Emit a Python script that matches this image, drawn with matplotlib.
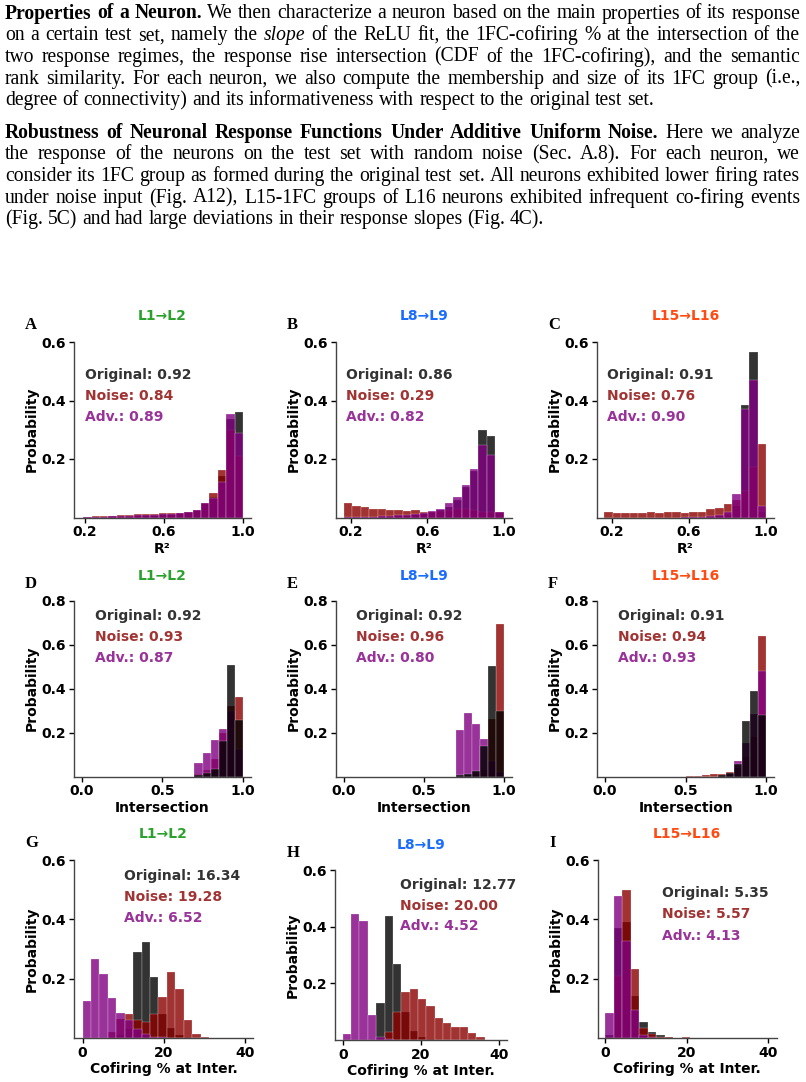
import numpy as np
import matplotlib
matplotlib.use("Agg")
import matplotlib.pyplot as plt

# ---------------- text block above the figure ----------------
para1 = [
    [("Properties of a Neuron.", "b"), ("We then characterize a neuron based on the main properties of its response", "n")],
    [("on a certain test set, namely the", "n"), ("slope", "i"), ("of the ReLU fit, the 1FC-cofiring % at the intersection of the", "n")],
    [("two response regimes, the response rise intersection (CDF of the 1FC-cofiring), and the semantic", "n")],
    [("rank similarity. For each neuron, we also compute the membership and size of its 1FC group (i.e.,", "n")],
    [("degree of connectivity) and its informativeness with respect to the original test set.", "n")],
]
para2 = [
    [("Robustness of Neuronal Response Functions Under Additive Uniform Noise.", "b"), ("Here we analyze", "n")],
    [("the response of the neurons on the test set with random noise (Sec.  A.8).  For each neuron, we", "n")],
    [("consider its 1FC group as formed during the original test set. All neurons exhibited lower firing rates", "n")],
    [("under noise input (Fig. A12), L15-1FC groups of L16 neurons exhibited infrequent co-firing events", "n")],
    [("(Fig. 5C) and had large deviations in their response slopes (Fig. 4C).", "n")],
]

# ---------------- histogram data (probability per bin) ----------------
layers = ["L1\u2192L2", "L8\u2192L9", "L15\u2192L16"]
layer_colors = ["#2ca02c", "#1a6cff", "#ff4a12"]
series_names = ["Original", "Noise", "Adv."]

# row 1: R^2, 19 bins each
A_range = (0.19, 1.0)
A_orig = [0.002, 0.003, 0.003, 0.004, 0.005, 0.006, 0.008, 0.009, 0.010, 0.011, 0.013, 0.015, 0.018, 0.025, 0.045, 0.070, 0.141, 0.337, 0.360]
A_noise = [0.003, 0.004, 0.005, 0.006, 0.008, 0.009, 0.011, 0.013, 0.011, 0.014, 0.017, 0.017, 0.019, 0.027, 0.048, 0.085, 0.161, 0.300, 0.210]
A_adv = [0.002, 0.002, 0.003, 0.004, 0.005, 0.006, 0.008, 0.009, 0.010, 0.011, 0.013, 0.015, 0.019, 0.027, 0.050, 0.065, 0.122, 0.355, 0.290]
A_stats = [0.92, 0.84, 0.89]

B_range = (0.163, 1.0)
B_orig = [0.002, 0.002, 0.003, 0.003, 0.004, 0.005, 0.006, 0.008, 0.010, 0.013, 0.018, 0.025, 0.036, 0.060, 0.105, 0.160, 0.300, 0.280, 0.015]
B_noise = [0.051, 0.040, 0.035, 0.030, 0.028, 0.025, 0.027, 0.022, 0.025, 0.018, 0.020, 0.022, 0.025, 0.028, 0.030, 0.025, 0.020, 0.018, 0.020]
B_adv = [0.001, 0.002, 0.002, 0.003, 0.004, 0.005, 0.007, 0.009, 0.012, 0.016, 0.022, 0.030, 0.050, 0.070, 0.110, 0.167, 0.247, 0.213, 0.020]
B_stats = [0.86, 0.29, 0.82]

C_range = (0.162, 1.0)
C_orig = [0.0, 0.0, 0.0, 0.0, 0.0, 0.0, 0.0, 0.0, 0.0, 0.001, 0.001, 0.002, 0.003, 0.005, 0.010, 0.040, 0.385, 0.565, 0.020]
C_noise = [0.018, 0.016, 0.016, 0.015, 0.017, 0.020, 0.015, 0.019, 0.020, 0.015, 0.020, 0.020, 0.028, 0.033, 0.045, 0.060, 0.090, 0.173, 0.252]
C_adv = [0.0, 0.0, 0.0, 0.0, 0.0, 0.0, 0.0, 0.0, 0.0, 0.001, 0.002, 0.003, 0.005, 0.008, 0.020, 0.080, 0.370, 0.470, 0.040]
C_stats = [0.91, 0.76, 0.90]

# row 2: intersection, 20 bins on [0, 1]
D_range = (0.0, 1.0)
D_orig = [0, 0, 0, 0, 0, 0, 0, 0, 0, 0, 0, 0, 0, 0, 0.005, 0.018, 0.035, 0.160, 0.508, 0.258]
D_noise = [0, 0, 0, 0, 0, 0, 0, 0, 0, 0, 0, 0, 0, 0, 0.010, 0.030, 0.080, 0.200, 0.320, 0.360]
D_adv = [0, 0, 0, 0, 0, 0, 0, 0, 0, 0, 0, 0, 0, 0, 0.061, 0.107, 0.165, 0.214, 0.300, 0.127]
D_stats = [0.92, 0.93, 0.87]

E_range = (0.0, 1.0)
E_orig = [0, 0, 0, 0, 0, 0, 0, 0, 0, 0, 0, 0, 0, 0, 0.005, 0.012, 0.027, 0.140, 0.505, 0.300]
E_noise = [0, 0, 0, 0, 0, 0, 0, 0, 0, 0, 0, 0, 0, 0, 0, 0, 0.010, 0.030, 0.260, 0.692]
E_adv = [0, 0, 0, 0, 0, 0, 0, 0, 0, 0, 0, 0, 0, 0, 0.210, 0.289, 0.237, 0.170, 0.070, 0.020]
E_stats = [0.92, 0.96, 0.80]

F_range = (0.0, 1.0)
F_orig = [0, 0, 0, 0, 0, 0, 0, 0, 0, 0, 0, 0, 0, 0, 0.005, 0.015, 0.058, 0.252, 0.390, 0.280]
F_noise = [0, 0, 0, 0, 0, 0, 0, 0, 0, 0, 0.003, 0.004, 0.005, 0.010, 0.012, 0.020, 0.040, 0.090, 0.180, 0.639]
F_adv = [0, 0, 0, 0, 0, 0, 0, 0, 0, 0, 0, 0, 0, 0, 0, 0.010, 0.069, 0.153, 0.286, 0.480]
F_stats = [0.91, 0.94, 0.93]

# row 3: cofiring % at intersection, 20 bins from 0
G_range = (0.0, 41.6)
G_orig = [0, 0, 0, 0.002, 0.010, 0.030, 0.291, 0.324, 0.204, 0.080, 0.033, 0.010, 0.003, 0.001, 0, 0, 0, 0, 0, 0]
G_noise = [0, 0, 0, 0.020, 0.063, 0.080, 0.060, 0.055, 0.080, 0.139, 0.222, 0.164, 0.061, 0.015, 0.004, 0, 0, 0, 0, 0]
G_adv = [0.125, 0.265, 0.215, 0.136, 0.085, 0.060, 0.030, 0.015, 0.005, 0.003, 0, 0, 0, 0, 0, 0, 0, 0, 0, 0]
G_stats = [16.34, 19.28, 6.52]

H_range = (0.0, 42.8)
H_orig = [0, 0, 0, 0, 0.131, 0.438, 0.269, 0.100, 0.031, 0.010, 0.003, 0, 0, 0, 0, 0, 0, 0, 0, 0]
H_noise = [0, 0, 0, 0, 0.005, 0.030, 0.100, 0.170, 0.180, 0.145, 0.120, 0.079, 0.060, 0.045, 0.045, 0.025, 0.010, 0, 0, 0]
H_adv = [0.021, 0.445, 0.420, 0.090, 0.010, 0.003, 0, 0, 0, 0, 0, 0, 0, 0, 0, 0, 0, 0, 0, 0]
H_stats = [12.77, 20.00, 4.52]

I_range = (0.0, 41.8)
I_orig = [0.010, 0.370, 0.392, 0.143, 0.053, 0.020, 0.010, 0.003, 0, 0, 0, 0, 0, 0, 0, 0, 0, 0, 0, 0]
I_noise = [0.005, 0.210, 0.498, 0.231, 0.035, 0.015, 0.004, 0.002, 0, 0.002, 0, 0, 0, 0, 0, 0, 0, 0, 0, 0]
I_adv = [0.085, 0.480, 0.328, 0.094, 0.010, 0.003, 0, 0, 0, 0, 0, 0, 0, 0, 0, 0, 0, 0, 0, 0]
I_stats = [5.35, 5.57, 4.13]

panels = {
    "A": (A_range, A_orig, A_noise, A_adv, A_stats),
    "B": (B_range, B_orig, B_noise, B_adv, B_stats),
    "C": (C_range, C_orig, C_noise, C_adv, C_stats),
    "D": (D_range, D_orig, D_noise, D_adv, D_stats),
    "E": (E_range, E_orig, E_noise, E_adv, E_stats),
    "F": (F_range, F_orig, F_noise, F_adv, F_stats),
    "G": (G_range, G_orig, G_noise, G_adv, G_stats),
    "H": (H_range, H_orig, H_noise, H_adv, H_stats),
    "I": (I_range, I_orig, I_noise, I_adv, I_stats),
}

# ---------------- layout (pixels) ----------------
W, H = 806, 1082
plt.rcParams["font.family"] = "DejaVu Sans"
plt.rcParams["font.weight"] = "bold"
plt.rcParams["axes.labelweight"] = "bold"

fig = plt.figure(figsize=(W / 100, H / 100), dpi=100)

boxes = {  # left, top, right, bottom
    "A": (74, 342, 251, 517.5), "B": (335.7, 342, 511.7, 517.5), "C": (597, 342, 774, 517.5),
    "D": (74, 600.7, 250.7, 776.5), "E": (335.7, 600.7, 511.7, 776.5), "F": (597, 600.7, 774.3, 776.5),
    "G": (74, 860, 253.3, 1038), "H": (335, 870, 506.7, 1040), "I": (597.7, 860, 776.7, 1038),
}
xlims = {"A": (0.144, 1.04), "B": (0.12, 1.042), "C": (0.124, 1.041),
         "D": (-0.05, 1.05), "E": (-0.05, 1.05), "F": (-0.05, 1.05),
         "G": (-2.1, 42.1), "H": (-2.0, 42.05), "I": (-1.9, 42.2)}
stat_pos = {  # left x, y of three lines
    "A": (85, [375, 396, 417]), "B": (346, [375, 396, 417]), "C": (606.7, [375, 396, 417]),
    "D": (95, [616, 637, 658]), "E": (356, [616, 637, 658]), "F": (617.7, [616, 637, 658]),
    "G": (124, [876, 897, 918]), "H": (400, [885, 905.5, 926]), "I": (662, [893, 914.5, 936]),
}
title_y = {"A": 316, "B": 316, "C": 316, "D": 576, "E": 576, "F": 576, "G": 834, "H": 845, "I": 834}
letter_pos = {"A": (25, 325), "B": (287, 325), "C": (548, 325),
              "D": (25, 584), "E": (287, 584), "F": (548, 584),
              "G": (25, 843), "H": (287, 853), "I": (549, 843)}

bar_colors = ["black", "darkred", "purple"]
text_colors = ["#333333", "#a23333", "#993399"]


def fxy(x, y):
    return x / W, 1 - y / H


for i, key in enumerate("ABCDEFGHI"):
    row, col = divmod(i, 3)
    rng, orig, noise, adv, stats = panels[key]
    l, t, r, b = boxes[key]
    ax = fig.add_axes([l / W, 1 - b / H, (r - l) / W, (b - t) / H])
    edges = np.linspace(rng[0], rng[1], len(orig) + 1)
    centers = (edges[:-1] + edges[1:]) / 2
    vals = [orig, noise, adv]
    order = [1, 2, 0] if row == 1 else [0, 1, 2]
    for k in order:
        ax.hist(centers, bins=edges, weights=vals[k], color=bar_colors[k], alpha=0.8,
                edgecolor="white", linewidth=0.2)
    ax.set_xlim(*xlims[key])
    if row == 1:
        ax.set_ylim(0, 0.8)
        ax.set_yticks([0.2, 0.4, 0.6, 0.8])
        ax.set_xticks([0.0, 0.5, 1.0])
        ax.set_xlabel("Intersection", fontsize=10, labelpad=2)
    elif row == 0:
        ax.set_ylim(0, 0.6)
        ax.set_yticks([0.2, 0.4, 0.6])
        ax.set_xticks([0.2, 0.6, 1.0])
        ax.set_xlabel("R\u00b2", fontsize=10, labelpad=2)
    else:
        ax.set_ylim(0, 0.6)
        ax.set_yticks([0.2, 0.4, 0.6])
        ax.set_xticks([0, 20, 40])
        ax.set_xlabel("Cofiring % at Inter.", fontsize=10, labelpad=2)
    ax.set_ylabel("Probability", fontsize=10, labelpad=2)
    ax.tick_params(labelsize=10, length=3.5, width=1, colors="black", pad=2)
    for s in ("top", "right"):
        ax.spines[s].set_visible(False)
    for s in ("left", "bottom"):
        ax.spines[s].set_color("#444444")
        ax.spines[s].set_linewidth(1.0)

    # title and stats
    cx = (l + r) / 2
    fig.text(*fxy(cx, title_y[key]), layers[col], color=layer_colors[col],
             fontsize=10, fontweight="bold", ha="center", va="center")
    sx, sys_ = stat_pos[key]
    for name, v, c, yy in zip(series_names, stats, text_colors, sys_):
        fig.text(*fxy(sx, yy), f"{name}: {v:.2f}", color=c, fontsize=10,
                 fontweight="bold", ha="left", va="center")
    lx, ly = letter_pos[key]
    fig.text(*fxy(lx, ly), key, family="Liberation Serif", fontsize=12,
             fontweight="bold", ha="left", va="center")

# ---------------- justified serif paragraphs ----------------
SERIF = "Liberation Serif"
renderer = fig.canvas.get_renderer()


def props(st, size):
    return dict(family=SERIF, fontsize=size,
                fontweight="bold" if st == "b" else "normal",
                fontstyle="italic" if st == "i" else "normal")


def width_of(word, st, size):
    t = fig.text(0, 0, word, **props(st, size))
    w = t.get_window_extent(renderer).width
    t.remove()
    return w


def words_of(line):
    out = []
    for seg, st in line:
        out += [(w, st) for w in seg.split()]
    return out


x_left, x_right = 5, 800
base = 12.0
nat = []
for para in (para1, para2):
    for line in para[:-1]:
        ws = words_of(line)
        nat.append(sum(width_of(w, st, base) for w, st in ws)
                   + 0.25 * base * 100 / 72 * (len(ws) - 1))
# scale the font so that the widest justified line fits with natural spacing
size = base * (x_right - x_left) / max(nat) * 0.995

baselines = [[18.5, 40.2, 61.9, 83.6, 105.3], [137.6, 159.3, 181.0, 202.7, 224.4]]
for para, ys in zip((para1, para2), baselines):
    for j, (line, yb) in enumerate(zip(para, ys)):
        ws = words_of(line)
        widths = [width_of(w, st, size) for w, st in ws]
        if j < len(para) - 1:
            gap = (x_right - x_left - sum(widths)) / (len(ws) - 1)
        else:
            gap = 0.25 * size * 100 / 72
        x = x_left
        for (w, st), wd in zip(ws, widths):
            fig.text(*fxy(x, yb), w, ha="left", va="baseline", **props(st, size))
            x += wd + gap

fig.savefig("out.png", dpi=100)
